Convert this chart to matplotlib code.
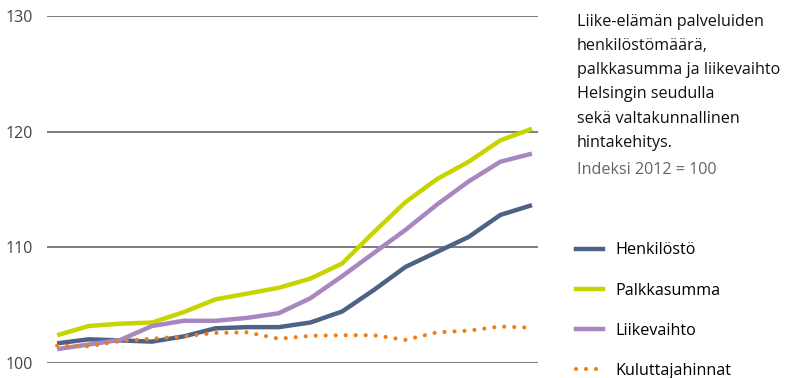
import numpy as np
import matplotlib.pyplot as plt
from matplotlib.lines import Line2D

# Neljännesvuosittaiset indeksit (2012 = 100), luettu kuvasta
periods = list(range(16))
henkilosto = [101.7, 102.05, 101.95, 101.85, 102.3, 103.0, 103.1, 103.1,
              103.5, 104.45, 106.3, 108.3, 109.6, 110.9, 112.8, 113.65]
palkkasumma = [102.4, 103.2, 103.4, 103.5, 104.4, 105.5, 106.0, 106.5,
               107.3, 108.6, 111.3, 113.9, 115.9, 117.4, 119.25, 120.25]
liikevaihto = [101.2, 101.6, 102.0, 103.2, 103.65, 103.65, 103.9, 104.3,
               105.6, 107.5, 109.5, 111.5, 113.7, 115.7, 117.4, 118.1]
kuluttajahinnat = [101.5, 101.45, 101.9, 102.1, 102.3, 102.6, 102.65, 102.1,
                   102.35, 102.4, 102.4, 102.0, 102.65, 102.8, 103.15, 103.05]

yticks = [100, 110, 120, 130]
labels = ['Henkilöstö', 'Palkkasumma', 'Liikevaihto', 'Kuluttajahinnat']
colors = ['#4d6285', '#c8d400', '#a886c0', '#f07d14']

plt.rcParams['font.family'] = ['Open Sans', 'DejaVu Sans']

fig = plt.figure(figsize=(8, 3.78), dpi=100)
ax = fig.add_axes([47/800, 15/378, 491/800, 347/378])

lw = 3.2
ax.plot(periods, henkilosto, color=colors[0], lw=lw, solid_capstyle='butt', zorder=3)
ax.plot(periods, palkkasumma, color=colors[1], lw=lw, solid_capstyle='butt', zorder=3)
ax.plot(periods, liikevaihto, color=colors[2], lw=lw, solid_capstyle='butt', zorder=3)
ax.plot(periods, kuluttajahinnat, color=colors[3], lw=3.0, ls=(0, (0.001, 2.4)),
        dash_capstyle='round', zorder=4)

ax.set_ylim(100, 130)
ax.set_xlim(-0.32, 15.19)
ax.set_yticks(yticks)
ax.set_xticks([])
ax.yaxis.grid(True, color='#666666', lw=1.2)
ax.set_axisbelow(True)
for s in ax.spines.values():
    s.set_visible(False)
ax.tick_params(axis='y', length=0, pad=10, labelsize=11.5, labelcolor='#444444')

# otsikko oikealla
fig.text(577/800, 1 - 14/378,
         'Liike-elämän palveluiden\nhenkilöstömäärä,\npalkkasumma ja liikevaihto\n'
         'Helsingin seudulla\nsekä valtakunnallinen\nhintakehitys.',
         fontsize=11.6, color='#111111', va='top', ha='left', linespacing=1.68)
fig.text(577/800, 1 - 170/378, 'Indeksi 2012 = 100', fontsize=11.6, color='#666666',
         va='center', ha='left')

handles = [Line2D([], [], color=colors[0], lw=lw),
           Line2D([], [], color=colors[1], lw=lw),
           Line2D([], [], color=colors[2], lw=lw),
           Line2D([], [], color=colors[3], lw=3.0, ls=(0, (0.001, 2.4)), dash_capstyle='round')]
fig.legend(handles, labels, loc='upper left', bbox_to_anchor=(570/800, 1 - 236/378),
           frameon=False, fontsize=11.6, labelspacing=1.5, handlelength=1.65,
           handletextpad=0.75, borderaxespad=0)

fig.savefig('out.png', dpi=100)
